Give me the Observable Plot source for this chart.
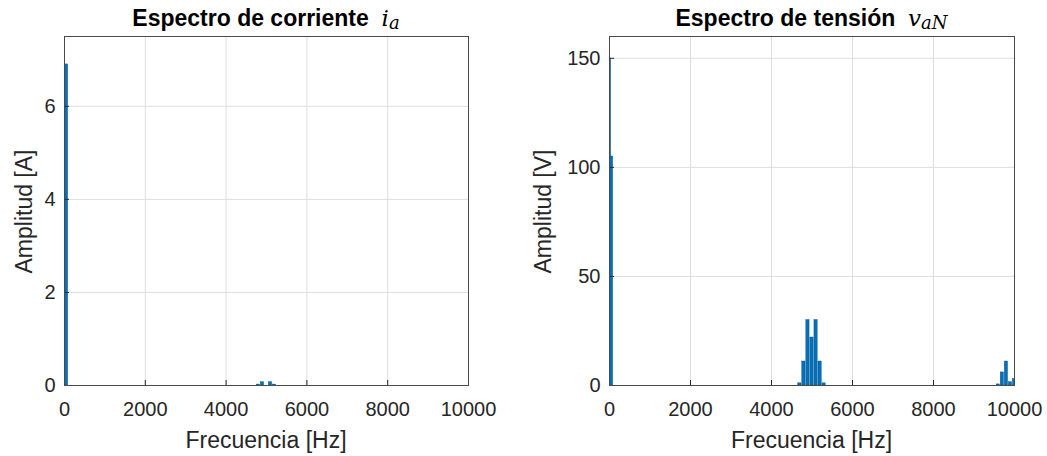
<!DOCTYPE html>
<html><head><meta charset="utf-8">
<script src="https://cdn.jsdelivr.net/npm/d3@7"></script>
<script src="https://cdn.jsdelivr.net/npm/@observablehq/plot@0.6"></script>
<style>
body{margin:0;background:#fff;}
#wrap{display:flex;width:1047px;height:456px;overflow:hidden;}
svg{display:block;}
</style></head><body><div id="wrap"></div>
<script>
// ---- data ----
const xTicks = [0, 2000, 4000, 6000, 8000, 10000];
const freqI = [50, 4800, 4900, 5100, 5200];
const ampI = [6.9, 0.02, 0.07, 0.07, 0.02];
const yTicksI = [0, 2, 4, 6];
const freqV = [0, 50, 4700, 4800, 4900, 5000, 5100, 5200, 5300, 9600, 9700, 9800, 9900, 10000];
const ampV = [150, 105, 1, 11, 30, 22, 30, 11, 1, 0.5, 6, 11, 1.5, 3];
const yTicksV = [0, 50, 100, 150];
const barWidthHz = 80;

const FONT = "'Liberation Sans', Arial, Helvetica, sans-serif";
const INK = "#262626";

function chart({width, ml, mr, freq, amp, yDomain, yTicks, ylabel, ylabelX, title, mathMain, mathSub}) {
  const data = freq.map((f, i) => ({f, a: amp[i]}));
  const plot = Plot.plot({
    width, height: 456,
    marginLeft: ml, marginRight: mr, marginTop: 36, marginBottom: 71,
    style: {fontFamily: FONT, fontSize: "20px", color: INK, background: "#fff", overflow: "visible"},
    x: {domain: [0, 10000]},
    y: {domain: yDomain},
    marks: [
      Plot.gridX(xTicks, {stroke: "#dedede", strokeOpacity: 1}),
      Plot.gridY(yTicks, {stroke: "#dedede", strokeOpacity: 1}),
      Plot.rectY(data, {x1: d => d.f - barWidthHz / 2, x2: d => d.f + barWidthHz / 2, y1: 0, y2: "a",
        fill: "#0072BD", stroke: "#0d4a7a", strokeWidth: 0.4, clip: true}),
      Plot.axisX(xTicks, {tickSize: -5, tickPadding: 21, stroke: INK, fill: INK, label: null, tickFormat: d => String(d)}),
      Plot.axisY(yTicks, {tickSize: -5, tickPadding: 14, stroke: INK, fill: INK, label: null, tickFormat: d => String(d)}),
      Plot.frame({stroke: "#4a4a4a", strokeWidth: 1})
    ]
  });
  const svg = d3.select(plot);
  const cx = plot.scale("x").apply(5000);
  const cy = (plot.scale("y").apply(yDomain[0]) + plot.scale("y").apply(yDomain[1])) / 2;
  // x label
  svg.append("text").attr("x", cx).attr("y", 448).attr("text-anchor", "middle")
    .attr("font-family", FONT).attr("font-size", 23).attr("fill", INK).text("Frecuencia [Hz]");
  // y label
  svg.append("text").attr("transform", `translate(${ylabelX},${cy + 1}) rotate(-90)`)
    .attr("text-anchor", "middle").attr("dominant-baseline", "central")
    .attr("font-family", FONT).attr("font-size", 23).attr("fill", INK).text(ylabel);
  // title
  const t = svg.append("text").attr("x", cx).attr("y", 26).attr("text-anchor", "middle")
    .attr("fill", "#000");
  t.append("tspan").attr("font-family", FONT).attr("font-weight", "bold").attr("font-size", 23).text(title + "  ");
  t.append("tspan").attr("font-family", "'DejaVu Serif', serif").attr("font-style", "italic").attr("font-size", 23).text(mathMain);
  t.append("tspan").attr("font-family", "'DejaVu Serif', serif").attr("font-style", "italic").attr("font-size", 18).attr("dy", 3).text(mathSub);
  return plot;
}

const wrap = document.getElementById("wrap");
wrap.appendChild(chart({width: 523, ml: 64, mr: 55, freq: freqI, amp: ampI, yDomain: [0, 7.5], yTicks: yTicksI,
  ylabel: "Amplitud [A]", ylabelX: 24, title: "Espectro de corriente", mathMain: "i", mathSub: "a"}));
wrap.appendChild(chart({width: 524, ml: 86, mr: 33, freq: freqV, amp: ampV, yDomain: [0, 160], yTicks: yTicksV,
  ylabel: "Amplitud [V]", ylabelX: 20, title: "Espectro de tensión", mathMain: "v", mathSub: "aN"}));
</script></body></html>
